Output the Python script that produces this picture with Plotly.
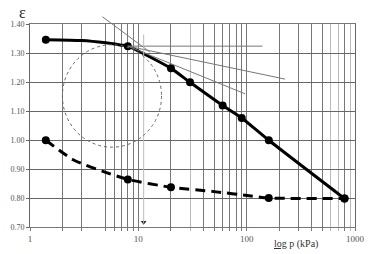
import math
import plotly.graph_objects as go

# ---- data ----
# loading curve (solid) measured points
load_p = [1.4, 8, 20, 30, 60, 90, 160, 800]
load_e = [1.346, 1.3236, 1.247, 1.199, 1.119, 1.076, 0.999, 0.798]
# loading curve traced path
load_path_p = [1.4, 3, 5, 7, 8, 20, 30, 60, 90, 160, 800]
load_path_e = [1.346, 1.343, 1.335, 1.327, 1.3236, 1.247, 1.199, 1.119, 1.076, 0.999, 0.798]

# unloading / dashed curve measured points
dash_p = [1.4, 8, 20, 160, 800]
dash_e = [0.999, 0.864, 0.837, 0.800, 0.798]
dash_path_p = [1.4, 2.5, 4.7, 8, 20, 50, 110, 160, 800]
dash_path_e = [0.999, 0.932, 0.892, 0.864, 0.837, 0.822, 0.807, 0.800, 0.798]

# axis ticks
y_ticks = [0.70, 0.80, 0.90, 1.00, 1.10, 1.20, 1.30, 1.40]
x_grid_dark = [1, 2, 3, 5, 6, 7, 8, 9, 10, 20, 40, 50, 60, 70, 80, 90, 100,
               200, 300, 400, 500, 800, 1000]
x_grid_light = [30, 600, 700, 900]
x_labels = {1: "1", 10: "10", 100: "100", 1000: "1000"}

# Casagrande construction (p, e) pairs
pc_point = (8, 1.3236)
tangent_end = (97, 1.159)
bisector_end = (226, 1.210)
horizontal_end = (140, 1.3236)
virgin_ext = [(4.66, 1.425), (12.8, 1.303)]
sigma_p = 11.2
sigma_line_e = (1.364, 0.712)

X_RANGE = (0, 3)
Y_RANGE = (0.70, 1.40)


def px(p):
    return (math.log10(p) - X_RANGE[0]) / (X_RANGE[1] - X_RANGE[0])


def py(e):
    return (e - Y_RANGE[0]) / (Y_RANGE[1] - Y_RANGE[0])


fig = go.Figure()

fig.add_trace(go.Scatter(x=load_path_p, y=load_path_e, mode="lines",
                         line=dict(color="black", width=3, shape="spline", smoothing=0.6),
                         hoverinfo="skip", showlegend=False))
fig.add_trace(go.Scatter(x=load_p, y=load_e, mode="markers",
                         marker=dict(color="black", size=8), showlegend=False,
                         cliponaxis=False))
fig.add_trace(go.Scatter(x=dash_path_p, y=dash_path_e, mode="lines",
                         line=dict(color="black", width=3, shape="spline", smoothing=0.6,
                                   dash="10px,6px"),
                         hoverinfo="skip", showlegend=False))
fig.add_trace(go.Scatter(x=dash_p, y=dash_e, mode="markers",
                         marker=dict(color="black", size=8), showlegend=False,
                         cliponaxis=False))
# arrow head of preconsolidation marker
fig.add_trace(go.Scatter(x=[sigma_p], y=[sigma_line_e[1] + 0.004], mode="markers",
                         marker=dict(symbol="triangle-down", color="#222", size=5),
                         showlegend=False, cliponaxis=False))

shapes = []
thin = dict(color="#777", width=1)
for (a, b) in [(pc_point, tangent_end), (pc_point, bisector_end), (pc_point, horizontal_end),
               (virgin_ext[0], virgin_ext[1])]:
    shapes.append(dict(type="line", xref="paper", yref="paper",
                       x0=px(a[0]), y0=py(a[1]), x1=px(b[0]), y1=py(b[1]), line=thin))
shapes.append(dict(type="line", xref="paper", yref="paper",
                   x0=px(sigma_p), y0=py(sigma_line_e[0]), x1=px(sigma_p), y1=py(sigma_line_e[1]),
                   line=dict(color="#bbb", width=1)))
# dotted circle (pixel-estimated, in paper coordinates)
W, H = 375, 254
ml, mr, mt, mb = 24, 10, 24, 24
pw, ph = W - ml - mr, H - mt - mb
cx, cy, r = 110, 97, 52
shapes.append(dict(type="circle", xref="paper", yref="paper",
                   x0=(cx - r - ml) / pw, x1=(cx + r - ml) / pw,
                   y0=1 - (cy + r - mt) / ph, y1=1 - (cy - r - mt) / ph,
                   line=dict(color="#666", width=1, dash="dot")))

fig.update_layout(
    width=W, height=H,
    margin=dict(l=ml, r=mr, t=mt, b=mb),
    paper_bgcolor="white", plot_bgcolor="white",
    shapes=shapes,
    font=dict(family="Liberation Serif", color="#444"),
    xaxis=dict(type="log", range=list(X_RANGE),
               tickvals=x_grid_dark,
               ticktext=[x_labels.get(v, "") for v in x_grid_dark],
               showgrid=True, gridcolor="#777", gridwidth=1,
               ticks="outside", ticklen=3, tickcolor="#777",
               tickfont=dict(size=9, color="#555", family="Liberation Serif"),
               showline=True, linecolor="#777", mirror=True, zeroline=False,
               minor=dict(tickvals=x_grid_light, showgrid=True, gridcolor="#bbb",
                          ticks="outside", ticklen=3, tickcolor="#bbb")),
    yaxis=dict(range=list(Y_RANGE), tickvals=y_ticks,
               ticktext=["%.2f" % v for v in y_ticks],
               showgrid=True, gridcolor="#666", gridwidth=1,
               ticks="outside", ticklen=3, tickcolor="#666",
               tickfont=dict(size=8, color="#555", family="Liberation Serif"),
               showline=True, linecolor="#666", mirror=True, zeroline=False),
    annotations=[
        dict(text="ε", xref="paper", yref="paper", x=(16 - ml) / pw, y=1 + (mt - 12.5) / ph,
             xanchor="center", yanchor="middle",
             showarrow=False, font=dict(size=16, color="#222", family="Liberation Serif")),
        dict(text="<u>log</u> p (kPa)", xref="paper", yref="paper",
             x=(303 - ml) / pw, y=-(247 - (H - mb)) / ph,
             xanchor="center", yanchor="middle",
             showarrow=False, font=dict(size=10, color="#333", family="Liberation Serif")),
    ],
)

fig.write_html("out.html")
